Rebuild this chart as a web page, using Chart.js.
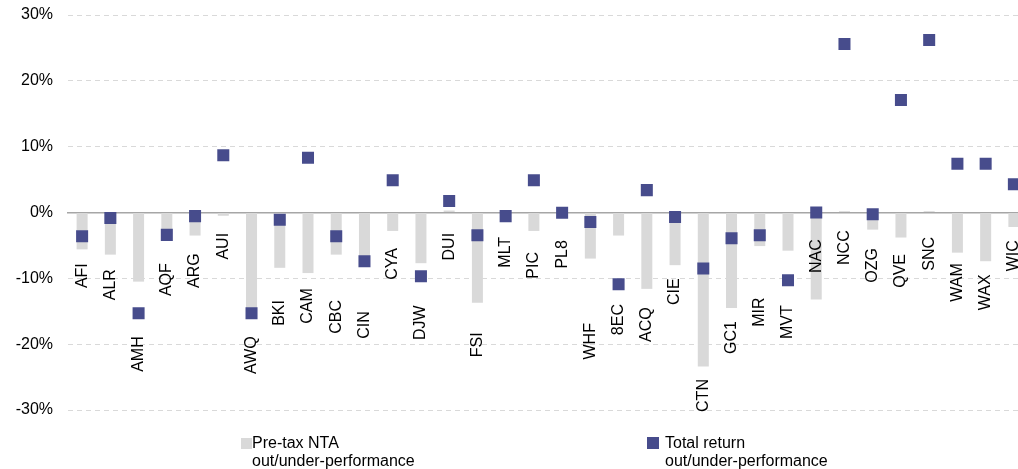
<!DOCTYPE html>
<html>
<head>
<meta charset="utf-8">
<script src="https://cdn.jsdelivr.net/npm/chart.js@4/dist/chart.umd.min.js"></script>
<style>
  html, body { margin: 0; padding: 0; background: #fff; overflow: hidden; }
  #wrap { position: relative; width: 1028px; height: 469px; }
  #legend .item { position: absolute; top: 434px; font: 16px/18px "Liberation Sans", Arial, sans-serif; color: #000; white-space: pre; }
  #legend .box { position: absolute; }
</style>
</head>
<body>
<div id="wrap">
  <canvas id="chart" width="1028" height="469"></canvas>
  <div id="legend"></div>
</div>
<script>
// tickers, in chart order
const tickers = ['AFI','ALR','AMH','AQF','ARG','AUI','AWQ','BKI','CAM','CBC','CIN','CYA','DJW','DUI','FSI','MLT','PIC',
  'PL8','WHF','8EC','ACQ','CIE','CTN','GC1','MIR','MVT','NAC','NCC','OZG','QVE','SNC','WAM','WAX','WIC'];

// pre-tax NTA out/under-performance (%)
const ntaPerf = [-5.6, -6.4, -10.5, -3.2, -3.5, -0.5, -15.0, -8.4, -9.2, -6.4, -7.0, -2.8, -7.7, 0.3, -13.7, -0.2, -2.8,
  -0.1, -7.0, -3.5, -11.6, -8.0, -23.4, -14.5, -5.1, -5.8, -13.2, 0.2, -2.6, -3.8, 0.2, -6.1, -7.4, -2.2];

// total return out/under-performance (%)
const trPerf = [-3.6, -0.85, -15.3, -3.4, -0.55, 8.7, -15.3, -1.1, 8.3, -3.6, -7.4, 4.9, -9.7, 1.75, -3.45, -0.55, 4.9,
  -0.05, -1.45, -10.9, 3.4, -0.7, -8.5, -3.9, -3.45, -10.3, 0.0, 25.6, -0.25, 17.1, 26.2, 7.4, 7.4, 4.3];

const yTicks = [-30, -20, -10, 0, 10, 20, 30];

// where each ticker label ends (top of rotated text), in axis units
const labelAt = [-7.7, -8.6, -18.8, -7.7, -6.2, -3.1, -18.8, -13.3, -11.5, -13.3, -15.0, -5.4, -14.1, -3.1, -18.2, -3.7, -6.0,
  -4.2, -16.8, -13.9, -14.4, -10.0, -25.3, -16.5, -12.9, -14.1, -4.05, -2.7, -5.4, -6.3, -3.7, -7.7, -9.4, -4.2];

const FONT = '"Liberation Sans", Arial, sans-serif';
Chart.defaults.font.family = FONT;
Chart.defaults.color = '#000';

// ticker names sit under each pair of marks, reading upwards
const tickerLabels = {
  id: 'tickerLabels',
  afterDatasetsDraw(chart) {
    const { ctx, scales: { x, y } } = chart;
    ctx.save();
    ctx.font = '16px ' + FONT;
    ctx.fillStyle = '#000';
    ctx.textAlign = 'right';
    ctx.textBaseline = 'middle';
    tickers.forEach((t, i) => {
      ctx.save();
      ctx.translate(x.getPixelForValue(i), y.getPixelForValue(labelAt[i]));
      ctx.rotate(-Math.PI / 2);
      ctx.fillText(t, 0, 0);
      ctx.restore();
    });
    ctx.restore();
  }
};

const chart = new Chart(document.getElementById('chart'), {
  data: {
    labels: tickers,
    datasets: [
      {
        type: 'line', label: 'Total return\nout/under-performance', data: trPerf, order: 0,
        showLine: false, pointStyle: 'rect', pointRadius: 8.5, pointHoverRadius: 8.5,
        pointBackgroundColor: '#474C8C', pointBorderWidth: 0, backgroundColor: '#474C8C'
      },
      {
        type: 'bar', label: 'Pre-tax NTA\nout/under-performance', data: ntaPerf, order: 1,
        backgroundColor: '#D9D9D9', borderWidth: 0, categoryPercentage: 1, barPercentage: 0.39
      }
    ]
  },
  options: {
    responsive: false,
    animation: false,
    layout: { autoPadding: false, padding: { left: 16, top: 15, right: 0, bottom: 59 } },
    plugins: { legend: { display: false }, tooltip: { enabled: false } },
    scales: {
      x: {
        type: 'category', offset: true, position: { y: 0 },
        grid: { display: false, drawTicks: false },
        ticks: { display: false },
        border: { display: true, color: '#A6A6A6', width: 1.5 }
      },
      y: {
        min: -30, max: 30,
        afterBuildTicks: (s) => { s.ticks = yTicks.map(v => ({ value: v })); },
        afterFit: (s) => { s.width = 52; s.paddingTop = s.paddingBottom = 0; },
        ticks: { callback: v => v + '%', padding: 15, font: { size: 16 }, color: '#000' },
        grid: { drawTicks: false, lineWidth: 1, color: c => c.tick && c.tick.value === 0 ? 'rgba(0,0,0,0)' : '#D9D9D9' },
        border: { display: false, dash: [5, 4] }
      }
    }
  },
  plugins: [tickerLabels]
});

// html legend, bar series first
const legendSpots = [
  { text: 252, box: 241, boxTop: 4, size: 11 },
  { text: 665, box: 647, boxTop: 3, size: 12 }
];
const legendEl = document.getElementById('legend');
[1, 0].forEach((di, k) => {
  const ds = chart.data.datasets[di];
  const spot = legendSpots[k];
  const item = document.createElement('div');
  item.className = 'item';
  item.style.left = spot.text + 'px';
  item.textContent = ds.label;
  const box = document.createElement('span');
  box.className = 'box';
  box.style.left = (spot.box - spot.text) + 'px';
  box.style.top = spot.boxTop + 'px';
  box.style.width = box.style.height = spot.size + 'px';
  box.style.background = ds.backgroundColor;
  item.appendChild(box);
  legendEl.appendChild(item);
});
</script>
</body>
</html>
